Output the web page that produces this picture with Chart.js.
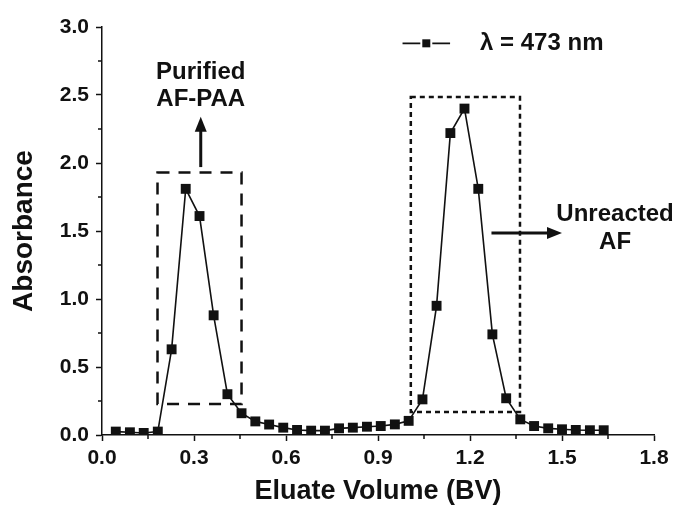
<!DOCTYPE html>
<html>
<head>
<meta charset="utf-8">
<script src="https://cdn.jsdelivr.net/npm/chart.js@4.4.1/dist/chart.umd.min.js"></script>
<style>
  html, body { margin: 0; padding: 0; background: #fff; }
  #wrap { width: 678px; height: 506px; }
</style>
</head>
<body>
<div id="wrap"><canvas id="elution" width="678" height="506"></canvas></div>
<script>
// eluate volume (BV) and absorbance at 473 nm
const volumeBV = [0.045, 0.091, 0.136, 0.182, 0.227, 0.273, 0.318, 0.364, 0.409, 0.455,
  0.5, 0.545, 0.591, 0.636, 0.682, 0.727, 0.773, 0.818, 0.864, 0.909, 0.955, 1.0,
  1.045, 1.091, 1.136, 1.182, 1.227, 1.273, 1.318, 1.364, 1.409, 1.455, 1.5, 1.545,
  1.591, 1.636];
const absorbance = [0.025, 0.02, 0.015, 0.025, 0.63, 1.81, 1.61, 0.88, 0.30, 0.16,
  0.10, 0.077, 0.054, 0.037, 0.032, 0.032, 0.049, 0.054, 0.061, 0.066, 0.078, 0.104,
  0.262, 0.95, 2.22, 2.40, 1.81, 0.74, 0.27, 0.115, 0.066, 0.049, 0.042, 0.037,
  0.035, 0.035];

const xTicks = [0, 0.3, 0.6, 0.9, 1.2, 1.5, 1.8];
const xMinorTicks = [0.15, 0.45, 0.75, 1.05, 1.35, 1.65];
const yTicks = [0, 0.5, 1.0, 1.5, 2.0, 2.5, 3.0];
const yMinorTicks = [0.25, 0.75, 1.25, 1.75, 2.25, 2.75];

const seriesLabel = 'λ = 473 nm';
const xTitle = 'Eluate Volume (BV)';
const yTitle = 'Absorbance';

// annotation boxes in data units: [x0, x1, y0, y1]
const purifiedBox = [0.181, 0.455, 0.228, 1.93];
const unreactedBox = [1.007, 1.363, 0.17, 2.485];
// arrows: [xFrom, yFrom, xTo, yTo]
const purifiedArrow = [0.322, 1.97, 0.322, 2.34];
const unreactedArrow = [1.27, 1.485, 1.50, 1.485];
// text: [label, x, y]
const noteTexts = [
  ['Purified', 0.322, 2.67],
  ['AF-PAA', 0.322, 2.47],
  ['Unreacted', 1.673, 1.62],
  ['AF', 1.673, 1.42]
];
const legendSpot = [0.98, 1.135, 2.88]; // line x0, x1, y

const INK = '#111';
const FONT = 'Arial, "Liberation Sans", sans-serif';

const overlay = {
  id: 'overlay',
  afterDraw(chart) {
    const ctx = chart.ctx;
    const xs = chart.scales.x, ys = chart.scales.y;
    const area = chart.chartArea;
    const px = v => xs.getPixelForValue(v);
    const py = v => ys.getPixelForValue(v);
    ctx.save();
    ctx.strokeStyle = INK;
    ctx.fillStyle = INK;

    // minor ticks
    ctx.lineWidth = 1.5;
    ctx.beginPath();
    xMinorTicks.forEach(v => { ctx.moveTo(px(v), area.bottom); ctx.lineTo(px(v), area.bottom + 4); });
    yMinorTicks.forEach(v => { ctx.moveTo(area.left, py(v)); ctx.lineTo(area.left - 4, py(v)); });
    ctx.stroke();

    // dashed boxes
    const box = (b, dash) => {
      ctx.setLineDash(dash);
      ctx.lineWidth = 2.5;
      ctx.strokeRect(px(b[0]), py(b[3]), px(b[1]) - px(b[0]), py(b[2]) - py(b[3]));
    };
    box(purifiedBox, [12, 9]);
    box(unreactedBox, [5, 4]);
    ctx.setLineDash([]);

    // arrows
    const arrow = a => {
      const x0 = px(a[0]), y0 = py(a[1]), x1 = px(a[2]), y1 = py(a[3]);
      const ang = Math.atan2(y1 - y0, x1 - x0);
      const head = 15, half = 6;
      ctx.lineWidth = 3;
      ctx.beginPath();
      ctx.moveTo(x0, y0);
      ctx.lineTo(x1 - Math.cos(ang) * head * 0.8, y1 - Math.sin(ang) * head * 0.8);
      ctx.stroke();
      ctx.beginPath();
      ctx.moveTo(x1, y1);
      ctx.lineTo(x1 - Math.cos(ang) * head - Math.sin(ang) * half, y1 - Math.sin(ang) * head + Math.cos(ang) * half);
      ctx.lineTo(x1 - Math.cos(ang) * head + Math.sin(ang) * half, y1 - Math.sin(ang) * head - Math.cos(ang) * half);
      ctx.closePath();
      ctx.fill();
    };
    arrow(purifiedArrow);
    arrow(unreactedArrow);

    // notes
    ctx.font = 'bold 24px ' + FONT;
    ctx.textAlign = 'center';
    ctx.textBaseline = 'middle';
    noteTexts.forEach(t => ctx.fillText(t[0], px(t[1]), py(t[2])));

    // legend: —■—
    const lx0 = px(legendSpot[0]), lx1 = px(legendSpot[1]), ly = py(legendSpot[2]);
    const mid = (lx0 + lx1) / 2;
    ctx.lineWidth = 1.8;
    ctx.beginPath();
    ctx.moveTo(lx0, ly); ctx.lineTo(mid - 6, ly);
    ctx.moveTo(mid + 6, ly); ctx.lineTo(lx1, ly);
    ctx.stroke();
    ctx.fillRect(mid - 4, ly - 4, 8, 8);
    ctx.textAlign = 'left';
    ctx.fillText(seriesLabel, lx1 + 30, ly);

    // axis titles
    ctx.font = 'bold 27px ' + FONT;
    ctx.textAlign = 'center';
    ctx.fillText(xTitle, (area.left + area.right) / 2, 492);
    ctx.save();
    ctx.translate(24, (area.top + area.bottom) / 2);
    ctx.rotate(-Math.PI / 2);
    ctx.font = 'bold 28px ' + FONT;
    ctx.fillText(yTitle, 0, 0);
    ctx.restore();

    ctx.restore();
  }
};

new Chart(document.getElementById('elution'), {
  type: 'scatter',
  data: {
    datasets: [{
      label: seriesLabel,
      data: volumeBV.map((v, i) => ({ x: v, y: absorbance[i] })),
      showLine: true,
      borderColor: INK,
      borderWidth: 1.6,
      backgroundColor: INK,
      pointStyle: 'rect',
      pointRadius: 7,
      pointBorderWidth: 0,
      pointHoverRadius: 7
    }]
  },
  options: {
    responsive: false,
    animation: false,
    devicePixelRatio: 1,
    layout: { padding: { top: 27, right: 24, left: 0, bottom: 0 } },
    plugins: { legend: { display: false }, tooltip: { enabled: false } },
    scales: {
      x: {
        type: 'linear', min: 0, max: 1.8,
        afterBuildTicks: s => { s.ticks = xTicks.map(v => ({ value: v })); },
        afterFit: s => { s.height = 71; },
        ticks: {
          callback: v => Number(v).toFixed(1),
          font: { family: FONT, size: 21, weight: 'bold' },
          color: INK, padding: 5, maxRotation: 0, autoSkip: false
        },
        grid: { drawOnChartArea: false, tickLength: 6, tickWidth: 1.5, tickColor: INK },
        border: { display: true, color: INK, width: 1.5 }
      },
      y: {
        type: 'linear', min: 0, max: 3,
        afterBuildTicks: s => { s.ticks = yTicks.map(v => ({ value: v })); },
        afterFit: s => { s.width = 102; },
        ticks: {
          callback: v => Number(v).toFixed(1),
          font: { family: FONT, size: 21, weight: 'bold' },
          color: INK, padding: 7, autoSkip: false
        },
        grid: { drawOnChartArea: false, tickLength: 6, tickWidth: 1.5, tickColor: INK },
        border: { display: true, color: INK, width: 1.5 }
      }
    }
  },
  plugins: [overlay]
});
</script>
</body>
</html>
